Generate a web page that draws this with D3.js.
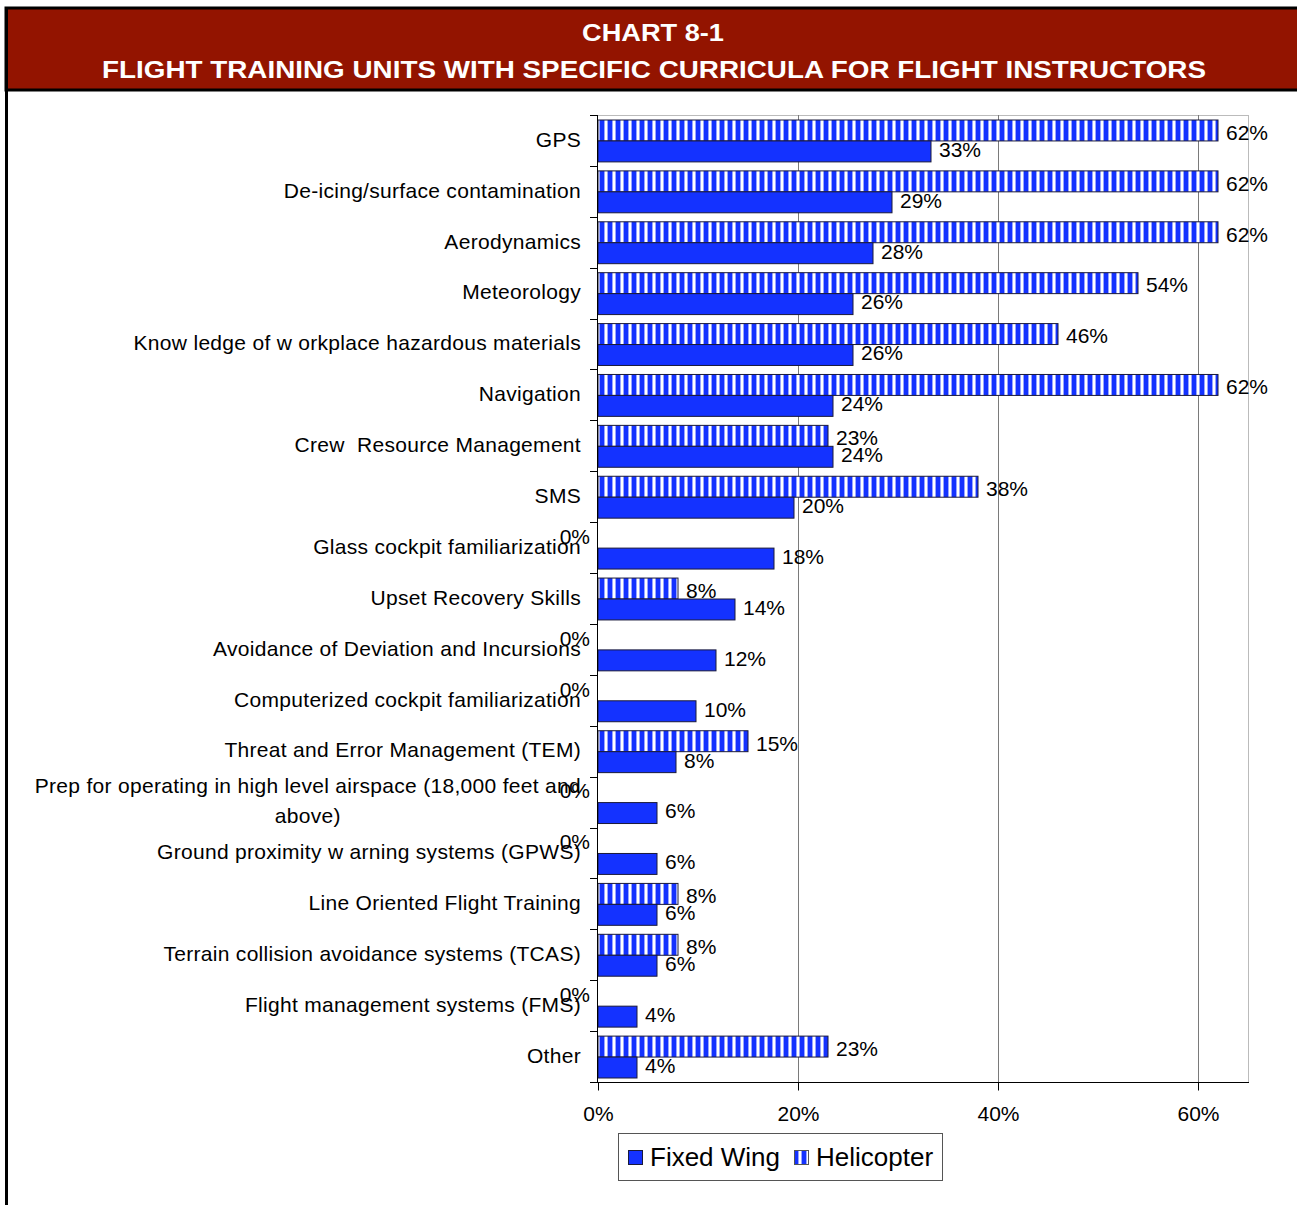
<!DOCTYPE html>
<html>
<head>
<meta charset="utf-8">
<script src="https://cdn.jsdelivr.net/npm/d3@7"></script>
<style>
  body { margin: 0; background: #fff; }
  svg { display: block; font-family: "Liberation Sans", Arial, sans-serif; }
</style>
</head>
<body>
<svg id="chart" width="1297" height="1205"></svg>
<script>
// data
const categories = [
  "GPS",
  "De-icing/surface contamination",
  "Aerodynamics",
  "Meteorology",
  "Know ledge of w orkplace hazardous materials",
  "Navigation",
  "Crew  Resource Management",
  "SMS",
  "Glass cockpit familiarization",
  "Upset Recovery Skills",
  "Avoidance of Deviation and Incursions",
  "Computerized cockpit familiarization",
  "Threat and Error Management (TEM)",
  "Prep for operating in high level airspace (18,000 feet and above)",
  "Ground proximity w arning systems (GPWS)",
  "Line Oriented Flight Training",
  "Terrain collision avoidance systems (TCAS)",
  "Flight management systems (FMS)",
  "Other"
]
const fixedWing = [33.3, 29.4, 27.5, 25.5, 25.5, 23.5, 23.5, 19.6, 17.6, 13.7, 11.8, 9.8, 7.8, 5.9, 5.9, 5.9, 5.9, 3.9, 3.9]
const helicopter = [62, 62, 62, 54, 46, 62, 23, 38, 0, 8, 0, 0, 15, 0, 0, 8, 8, 0, 23]
const xTicks = [0, 20, 40, 60]
const seriesNames = ["Helicopter", "Fixed Wing"]
const titleLines = ["CHART 8-1", "FLIGHT TRAINING UNITS WITH SPECIFIC CURRICULA FOR FLIGHT INSTRUCTORS"]

const blue = "#1432ff"
const svg = d3.select("#chart")

// stripes for the helicopter bars
const defs = svg.append("defs")
const pat = defs.append("pattern")
  .attr("id", "stripes")
  .attr("patternUnits", "userSpaceOnUse")
  .attr("width", 8).attr("height", 8)
pat.append("rect").attr("width", 8).attr("height", 8).attr("fill", "#fff")
pat.append("rect").attr("x", 0).attr("width", 4).attr("height", 8).attr("fill", blue)
pat.append("rect").attr("x", 4).attr("width", 1).attr("height", 8).attr("fill", "#98a6ff")
pat.append("rect").attr("x", 7).attr("width", 1).attr("height", 8).attr("fill", "#98a6ff")

// frame + title banner
svg.append("rect").attr("x", 6).attr("y", 8).attr("width", 1293).attr("height", 82)
  .attr("fill", "#931400").attr("stroke", "#000").attr("stroke-width", 3)
svg.append("line").attr("x1", 6.5).attr("y1", 8).attr("x2", 6.5).attr("y2", 1205)
  .attr("stroke", "#000").attr("stroke-width", 3)

svg.append("text").attr("x", 653).attr("y", 41)
  .attr("text-anchor", "middle").attr("fill", "#fff")
  .attr("font-weight", "bold").attr("font-size", "23px")
  .attr("textLength", 142).attr("lengthAdjust", "spacingAndGlyphs")
  .text(titleLines[0])
svg.append("text").attr("x", 654).attr("y", 78)
  .attr("text-anchor", "middle").attr("fill", "#fff")
  .attr("font-weight", "bold").attr("font-size", "23px")
  .attr("textLength", 1104).attr("lengthAdjust", "spacingAndGlyphs")
  .text(titleLines[1])

// scales
const x = d3.scaleLinear().domain([0, 65]).range([598, 1248])
const y = d3.scaleBand().domain(categories).range([115, 1082])
const ySub = d3.scaleBand().domain(seriesNames).range([5, y.bandwidth() - 4])

// plot frame and grid
svg.append("line").attr("x1", x(0)).attr("x2", x(65)).attr("y1", 115.5).attr("y2", 115.5)
  .attr("stroke", "#bbb")
svg.append("line").attr("x1", x(65) + 0.5).attr("x2", x(65) + 0.5).attr("y1", 115).attr("y2", 1082)
  .attr("stroke", "#bbb")
svg.append("g").selectAll("line").data(xTicks.slice(1)).join("line")
  .attr("x1", d => x(d) + 0.5).attr("x2", d => x(d) + 0.5)
  .attr("y1", 115).attr("y2", 1082)
  .attr("stroke", "#7a7a7a")

// bars
const rows = categories.map((c, i) => ({cat: c, Helicopter: helicopter[i], "Fixed Wing": fixedWing[i]}))
const group = svg.append("g").selectAll("g").data(rows).join("g")
  .attr("transform", d => `translate(0,${y(d.cat)})`)

group.selectAll("rect").data(d => seriesNames.map(s => ({s: s, v: d[s]})).filter(e => e.v > 0)).join("rect")
  .attr("x", x(0))
  .attr("y", e => ySub(e.s))
  .attr("width", e => x(e.v) - x(0))
  .attr("height", ySub.bandwidth())
  .attr("fill", e => e.s === "Helicopter" ? "url(#stripes)" : blue)
  .attr("stroke", "#1a1a3a").attr("stroke-width", 1)

group.selectAll("text.val").data(d => seriesNames.map(s => ({s: s, v: d[s]}))).join("text")
  .attr("class", "val")
  .attr("x", e => e.v > 0 ? x(e.v) + 8 : x(0) - 8)
  .attr("y", e => ySub(e.s) + ySub.bandwidth() / 2 + (e.s === "Helicopter" ? (e.v > 0 ? 2 : -1) : -2))
  .attr("dy", "0.35em")
  .attr("text-anchor", e => e.v > 0 ? "start" : "end")
  .attr("font-size", "21px").attr("fill", "#000")
  .text(e => Math.round(e.v) + "%")

// category axis with ticks at band edges
svg.append("line").attr("x1", x(0) - 0.5).attr("x2", x(0) - 0.5).attr("y1", 115).attr("y2", 1082)
  .attr("stroke", "#000")
const edges = categories.map(c => y(c)).concat([1082])
svg.append("g").selectAll("line").data(edges).join("line")
  .attr("x1", x(0) - 8).attr("x2", x(0))
  .attr("y1", d => Math.round(d) + 0.5).attr("y2", d => Math.round(d) + 0.5)
  .attr("stroke", "#000")

// category labels, wrap long ones
const labelRight = 581
const maxW = 560
const labels = svg.append("g").attr("font-size", "21px").attr("fill", "#000")
  .attr("letter-spacing", "0.3px")
function measure(t) {
  const p = labels.append("text").style("white-space", "pre").text(t)
  const w = p.node().getComputedTextLength()
  p.remove()
  return w
}
categories.forEach(c => {
  const cy = y(c) + y.bandwidth() / 2
  if (measure(c) <= maxW) {
    labels.append("text").style("white-space", "pre")
      .attr("x", labelRight).attr("y", cy).attr("dy", "0.3em")
      .attr("text-anchor", "end").text(c)
    return
  }
  const words = c.split(" ")
  const lines = []
  let cur = ""
  words.forEach(wd => {
    const t = cur ? cur + " " + wd : wd
    if (measure(t) > maxW && cur) { lines.push(cur); cur = wd } else cur = t
  })
  lines.push(cur)
  const mid = labelRight - d3.max(lines, measure) / 2
  lines.forEach((l, i) => {
    labels.append("text")
      .attr("x", mid).attr("y", cy + (i - (lines.length - 1) / 2) * 30).attr("dy", "0.3em")
      .attr("text-anchor", "middle").text(l)
  })
})

// value axis
const xAxis = svg.append("g").attr("transform", "translate(0,1082.5)")
  .call(d3.axisBottom(x).tickValues(xTicks).tickFormat(d => d + "%").tickSize(8).tickSizeOuter(0))
xAxis.select(".domain").attr("stroke", "#000").attr("d", `M${x(0) - 1},0H${x(65) + 1}`)
xAxis.selectAll(".tick line").attr("stroke", "#000")
xAxis.selectAll(".tick text").attr("font-size", "21px").attr("font-family", "Liberation Sans, Arial, sans-serif")
  .attr("fill", "#000").attr("dy", "1.3em")

// legend
const lg = svg.append("g").attr("transform", "translate(618,1133)")
lg.append("rect").attr("x", 0.5).attr("y", 0.5).attr("width", 324).attr("height", 47)
  .attr("fill", "#fff").attr("stroke", "#555")
lg.append("rect").attr("x", 10.5).attr("y", 17.5).attr("width", 14).attr("height", 14)
  .attr("fill", blue).attr("stroke", "#1a1a3a")
lg.append("text").attr("x", 32).attr("y", 24).attr("dy", "0.35em")
  .attr("font-size", "26px").text(seriesNames[1])
lg.append("rect").attr("x", 176.5).attr("y", 17.5).attr("width", 14).attr("height", 14)
  .attr("fill", "url(#stripes)").attr("stroke", "#555")
lg.append("text").attr("x", 198).attr("y", 24).attr("dy", "0.35em")
  .attr("font-size", "26px").text(seriesNames[0])
</script>
</body>
</html>
